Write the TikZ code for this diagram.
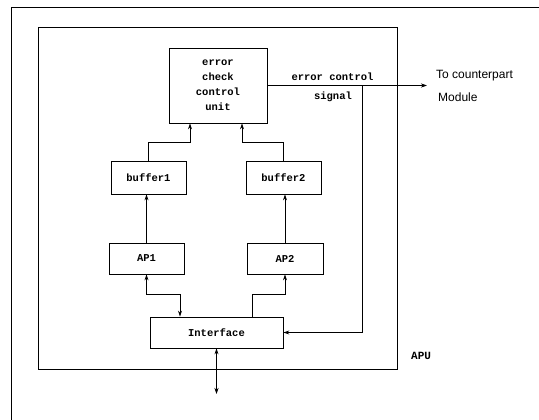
\documentclass[tikz,border=0pt]{standalone}
\usepackage{fontspec}
\setmainfont{Liberation Sans}
\newfontfamily\monof{Liberation Mono}
\usetikzlibrary{arrows.meta,calc}
\tikzset{
  box/.style={draw, thick, rectangle, inner sep=0pt, font=\monof\bfseries\fontsize{10.5}{15}\selectfont},
  arr/.style={thick, -{Stealth[length=6pt,width=4pt]}},
  arrb/.style={thick, {Stealth[length=6pt,width=4pt]}-{Stealth[length=6pt,width=4pt]}},
  lbl/.style={font=\monof\bfseries\fontsize{10.5}{13}\selectfont, inner sep=0pt},
}
\begin{document}
\begin{tikzpicture}[x=1pt,y=-1pt]
\useasboundingbox (0,0) rectangle (539,420);
% page frame
\coordinate (f1) at (11,420);
\coordinate (f2) at (11,7);
\coordinate (f3) at (539,7);
\draw[thin] (f1) -- (f2) -- (f3);
% APU box
\node[box, minimum width=359pt, minimum height=342pt] (apu) at (217.5,198) {};
\node[lbl, font=\monof\bfseries\fontsize{11}{13}\selectfont, anchor=west] (apul) at (411,356) {APU};
% boxes
\node[box, minimum width=98pt, minimum height=75pt, align=center] (ecu) at (218,85.5) {error\\check\\control\\unit};
\node[box, minimum width=75pt, minimum height=33pt] (b1) at (148.5,177.5) {buffer1};
\node[box, minimum width=75pt, minimum height=33pt] (b2) at (283.5,177.5) {buffer2};
\node[box, minimum width=75pt, minimum height=31pt] (ap1) at (146.5,258.5) {AP1};
\node[box, minimum width=76pt, minimum height=31pt] (ap2) at (285,258.5) {AP2};
\node[box, minimum width=133pt, minimum height=31pt] (if) at (216.5,332.5) {Interface};
% buffers to ecu
\coordinate (k1) at (148.5,142);
\coordinate (k2) at (283.5,142);
\draw[arr] (b1.north) -- (k1) -| ([xshift=-28pt]ecu.south);
\draw[arr] (b2.north) -- (k2) -| ([xshift=24pt]ecu.south);
% APs to buffers
\draw[arr] (ap1.north) -- (ap1.north |- b1.south);
\draw[arr] (ap2.north) -- (ap2.north |- b2.south);
% APs and interface
\coordinate (j1) at (180,294);
\coordinate (j2) at (252,294);
\draw[arrb] (ap1.south) |- (j1) -- (j1 |- if.north);
\draw[arr] (j2 |- if.north) -- (j2) -| (ap2.south);
% external
\coordinate (ext) at (216.5,394);
\draw[arrb] (if.south) -- (ext);
% error control signal
\coordinate (cp) at (427,85.5);
\coordinate (br) at (362,85.5);
\draw[arr] (ecu.east) -- (cp);
\draw[arr] (br) |- (if.east);
\node[lbl] (ecs1) at (332.5,77) {error control};
\node[lbl] (ecs2) at (333,97) {signal};
\node[anchor=west, inner sep=0pt, font=\fontsize{12}{14}\selectfont] (tc1) at (436,76) {To counterpart};
\node[anchor=west, inner sep=0pt, font=\fontsize{12}{14}\selectfont] (tc2) at (438,97) {Module};
\end{tikzpicture}
\end{document}
